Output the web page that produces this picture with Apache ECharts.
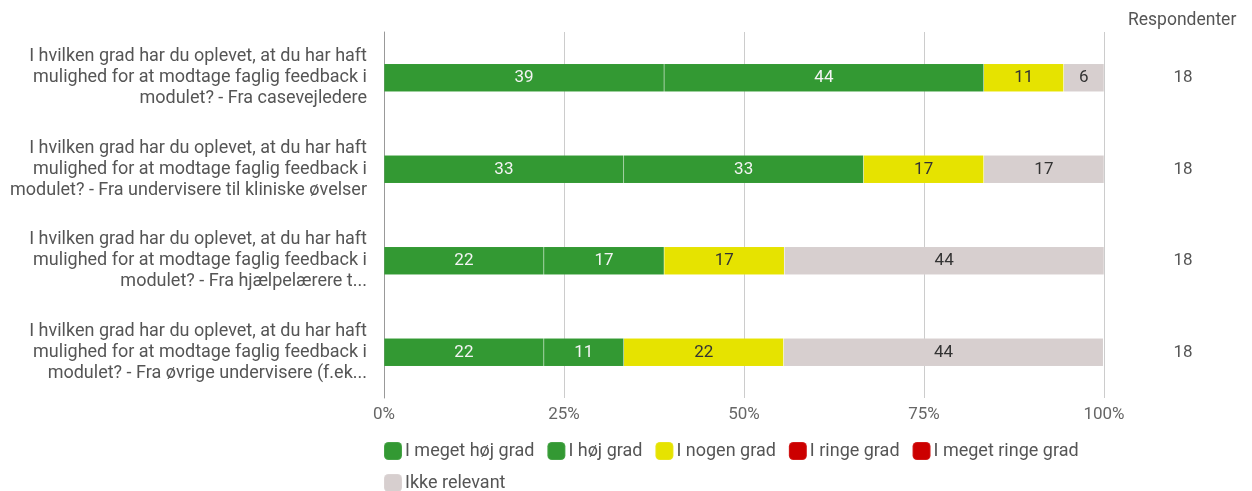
<!DOCTYPE html>
<html>
<head>
<meta charset="utf-8">
<script src="https://cdn.jsdelivr.net/npm/echarts@6/dist/echarts.min.js"></script>
<style>
  html, body { margin: 0; padding: 0; background: #fff; }
  #chart { width: 1252px; height: 491px; }
</style>
</head>
<body>
<div id="chart"></div>
<script>
// Questions (top to bottom)
const categories = [
  'I hvilken grad har du oplevet, at du har haft\nmulighed for at modtage faglig feedback i\nmodulet? - Fra casevejledere',
  'I hvilken grad har du oplevet, at du har haft\nmulighed for at modtage faglig feedback i\nmodulet? - Fra undervisere til kliniske øvelser',
  'I hvilken grad har du oplevet, at du har haft\nmulighed for at modtage faglig feedback i\nmodulet? - Fra hjælpelærere t...',
  'I hvilken grad har du oplevet, at du har haft\nmulighed for at modtage faglig feedback i\nmodulet? - Fra øvrige undervisere (f.ek...'
];

// Number of respondents per question
const respondents = ['18', '18', '18', '18'];

// Share of answers in percent
const megetHoej   = [38.9, 33.3, 22.2, 22.2];
const hoej        = [44.4, 33.3, 16.7, 11.1];
const nogen       = [11.1, 16.7, 16.7, 22.2];
const ringe       = [0, 0, 0, 0];
const megetRinge  = [0, 0, 0, 0];
const ikkeRelevant = [5.6, 16.7, 44.4, 44.4];

const xTicks = [0, 25, 50, 75, 100];

const answerSeries = [
  { name: 'I meget høj grad',   data: megetHoej,    color: '#339933', text: '#f4f4f4' },
  { name: 'I høj grad',         data: hoej,         color: '#339933', text: '#f4f4f4' },
  { name: 'I nogen grad',       data: nogen,        color: '#e6e300', text: '#333333' },
  { name: 'I ringe grad',       data: ringe,        color: '#cc0000', text: '#f4f4f4' },
  { name: 'I meget ringe grad', data: megetRinge,   color: '#cc0000', text: '#f4f4f4' },
  { name: 'Ikke relevant',      data: ikkeRelevant, color: '#d7cfcf', text: '#333333' }
];

const font = 'Roboto, "Noto Sans", sans-serif';
const chart = echarts.init(document.getElementById('chart'));

chart.setOption({
  animation: false,
  textStyle: { fontFamily: font },
  grid: { left: 384, right: 148, top: 32, bottom: 93, containLabel: false },
  legend: {
    left: 378,
    top: 436,
    width: 720,
    itemWidth: 18,
    itemHeight: 18,
    itemGap: 12,
    icon: 'roundRect',
    selectedMode: false,
    textStyle: { color: '#555', fontSize: 18, fontFamily: font, height: 21, padding: [0, 0, 0, -2] }
  },
  graphic: [{
    type: 'text',
    left: 1128,
    top: 12,
    style: { text: 'Respondenter', fill: '#555', font: '17.5px ' + font }
  }],
  xAxis: {
    type: 'value',
    min: xTicks[0],
    max: xTicks[xTicks.length - 1],
    interval: 25,
    axisLine: { show: false },
    axisTick: { show: false },
    axisLabel: { color: '#666', fontSize: 17, margin: 8, formatter: v => v + '%' },
    splitLine: { lineStyle: { color: '#cccccc', width: 1 } }
  },
  yAxis: [{
    type: 'category',
    data: categories,
    inverse: true,
    axisLine: { show: true, lineStyle: { color: '#999', width: 1 } },
    axisTick: { show: false },
    axisLabel: { color: '#555', fontSize: 18, lineHeight: 21, margin: 17, align: 'right' }
  }, {
    type: 'category',
    data: respondents,
    inverse: true,
    position: 'right',
    axisLine: { show: false },
    axisTick: { show: false },
    axisLabel: { color: '#555', fontSize: 17, margin: 79, align: 'center' }
  }],
  series: answerSeries.map(s => ({
    name: s.name,
    type: 'bar',
    stack: 'total',
    barWidth: 28,
    data: s.data,
    itemStyle: { color: s.color, borderColor: 'rgba(255,255,255,0.1)', borderWidth: 0.5 },
    label: {
      show: true,
      position: 'inside',
      color: s.text,
      fontSize: 17,
      fontFamily: font,
      formatter: p => p.value > 0 ? String(Math.round(p.value)) : ''
    }
  }))
});
</script>
</body>
</html>
